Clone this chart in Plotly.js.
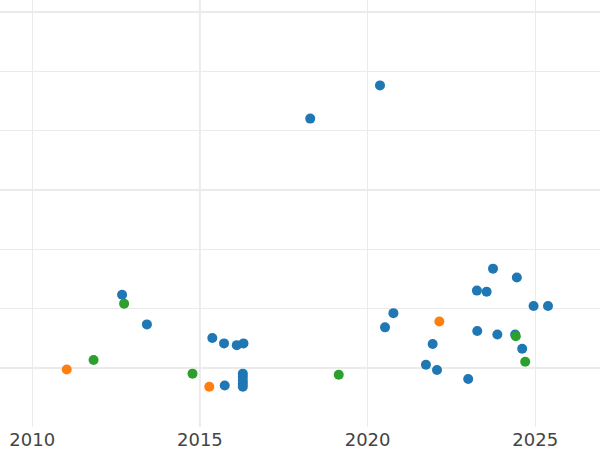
<!DOCTYPE html>
<html>
<head>
<meta charset="utf-8">
<script src="https://cdn.plot.ly/plotly-3.0.1.min.js"></script>
<style>html,body{margin:0;padding:0;background:#fff;}#chart{width:600px;height:450px;}</style>
</head>
<body>
<div id="chart"></div>
<script>
const blueX = [2020.37, 2018.29, 2012.68, 2013.42, 2015.37, 2015.72, 2016.10, 2016.30,
  2016.28, 2016.28, 2016.28, 2016.28, 2016.28, 2015.74,
  2020.77, 2020.52, 2021.94, 2021.74, 2022.07, 2023.00, 2023.27,
  2023.74, 2024.45, 2023.26, 2023.55, 2024.95, 2025.38, 2023.87, 2024.40, 2024.61];
const blueY = [4.76, 4.20, 1.23, 0.73, 0.50, 0.41, 0.38, 0.41,
  -0.10, -0.155, -0.22, -0.27, -0.32, -0.30,
  0.92, 0.68, 0.40, 0.05, -0.04, -0.19, 0.62,
  1.67, 1.52, 1.30, 1.28, 1.04, 1.04, 0.56, 0.56, 0.32];
const orangeX = [2011.03, 2015.28, 2022.14];
const orangeY = [-0.03, -0.32, 0.78];
const greenX = [2012.74, 2011.83, 2014.78, 2019.14, 2024.42, 2024.70];
const greenY = [1.08, 0.13, -0.10, -0.12, 0.53, 0.10];
const xTicks = [2010, 2015, 2020, 2025];

const mk = (x, y, c) => ({x, y, type: 'scatter', mode: 'markers', marker: {color: c, size: 10}, showlegend: false, hoverinfo: 'skip'});
const data = [mk(blueX, blueY, '#1f77b4'), mk(orangeX, orangeY, '#ff7f0e'), mk(greenX, greenY, '#2ca02c')];

const layout = {
  width: 600, height: 450,
  margin: {l: 0, r: 0, t: 0, b: 23, pad: 0},
  paper_bgcolor: '#fff', plot_bgcolor: '#fff',
  showlegend: false,
  xaxis: {
    range: [2009.04, 2026.93], tickvals: xTicks, ticktext: xTicks.map(String),
    showgrid: true, gridcolor: '#ebebeb', gridwidth: 1, zeroline: false, showline: false,
    ticks: '', automargin: false,
    tickfont: {family: 'DejaVu Sans', size: 18, color: '#444'}
  },
  yaxis: {
    range: [-1.0, 6.2], tick0: 0, dtick: 3, showticklabels: false,
    showgrid: true, gridcolor: '#ebebeb', gridwidth: 2, zeroline: false, showline: false,
    ticks: '', automargin: false,
    minor: {dtick: 1, tick0: 0, showgrid: true, gridcolor: '#ebebeb', gridwidth: 1}
  },
  shapes: [{type: 'line', xref: 'x', yref: 'paper', x0: 2015, x1: 2015, y0: 0, y1: 1, layer: 'below', line: {color: '#ebebeb', width: 2}}]
};
Plotly.newPlot('chart', data, layout, {staticPlot: true, displayModeBar: false});
</script>
</body>
</html>
